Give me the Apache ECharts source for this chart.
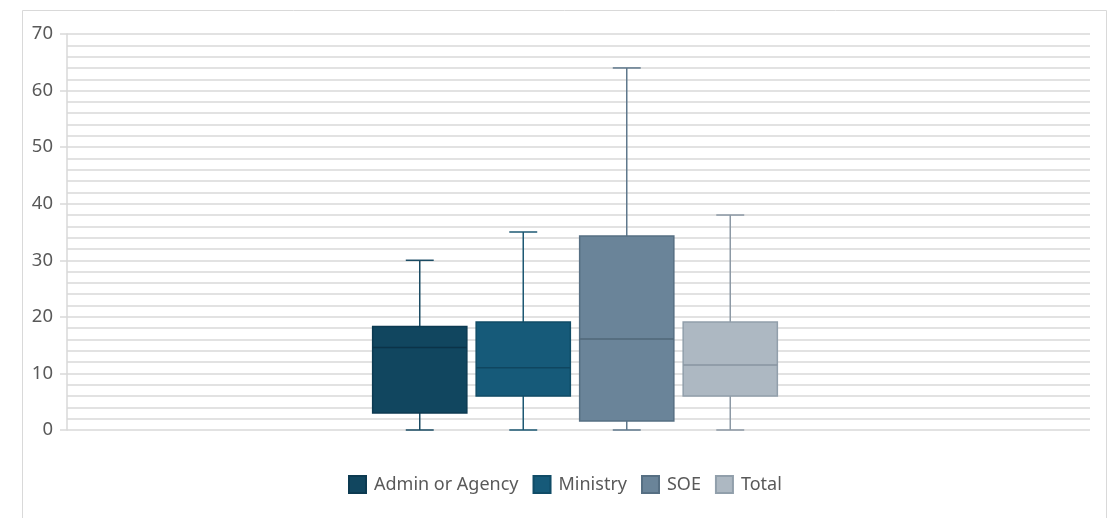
<!DOCTYPE html>
<html>
<head>
<meta charset="utf-8">
<script src="https://cdn.jsdelivr.net/npm/echarts@6/dist/echarts.min.js"></script>
<style>html,body{margin:0;padding:0;background:#fff;}#c{width:1107px;height:518px;}</style>
</head>
<body>
<div id="c"></div>
<script>
const categories = ['Admin or Agency', 'Ministry', 'SOE', 'Total'];
const minValues = [0, 0, 0, 0];
const q1Values = [3, 6, 1.6, 6];
const medianValues = [14.6, 11, 16.1, 11.5];
const q3Values = [18.3, 19.1, 34.3, 19.1];
const maxValues = [30, 35, 64, 38];
const yTickValues = [0, 10, 20, 30, 40, 50, 60, 70];

const fills = ['#11465f', '#165a79', '#6a8499', '#adb8c2'];
const borders = ['#0c3a51', '#104c67', '#566f83', '#919fab'];
const whiskers = ['#1a4b63', '#1d5873', '#5f788c', '#8c99a5'];
const medians = ['#0b3348', '#0f4660', '#506779', '#8995a0'];

const FONT = '"Noto Sans", "Open Sans", sans-serif';

function makeRender(i) {
  return function (params, api) {
    const x = api.value(0);
    const band = api.size([1, 0])[0];
    const half = band * 0.455;
    const capHalf = band * 0.135;
    const pMin = api.coord([x, api.value(1)]);
    const pQ1 = api.coord([x, api.value(2)]);
    const pMed = api.coord([x, api.value(3)]);
    const pQ3 = api.coord([x, api.value(4)]);
    const pMax = api.coord([x, api.value(5)]);
    const cx = pMed[0];
    const ws = { stroke: whiskers[i], lineWidth: 1.5 };
    return {
      type: 'group',
      children: [
        { type: 'line', shape: { x1: cx, y1: pMin[1], x2: cx, y2: pQ1[1] }, style: ws },
        { type: 'line', shape: { x1: cx, y1: pQ3[1], x2: cx, y2: pMax[1] }, style: ws },
        { type: 'line', shape: { x1: cx - capHalf, y1: pMin[1], x2: cx + capHalf, y2: pMin[1] }, style: ws },
        { type: 'line', shape: { x1: cx - capHalf, y1: pMax[1], x2: cx + capHalf, y2: pMax[1] }, style: ws },
        { type: 'rect', shape: { x: cx - half, y: pQ3[1], width: half * 2, height: pQ1[1] - pQ3[1] },
          style: { fill: fills[i], stroke: borders[i], lineWidth: 1.5 } },
        { type: 'line', shape: { x1: cx - half, y1: pMed[1], x2: cx + half, y2: pMed[1] },
          style: { stroke: medians[i], lineWidth: 1.5 } }
      ]
    };
  };
}

const series = categories.map(function (name, i) {
  return {
    name: name,
    type: 'custom',
    xAxisIndex: 1,
    yAxisIndex: 1,
    renderItem: makeRender(i),
    itemStyle: { color: fills[i], borderColor: borders[i], borderWidth: 1 },
    encode: { x: 0, y: [1, 2, 3, 4, 5] },
    data: [[i, minValues[i], q1Values[i], medianValues[i], q3Values[i], maxValues[i]]]
  };
});

const chart = echarts.init(document.getElementById('c'), null, { renderer: 'canvas' });
chart.setOption({
  animation: false,
  backgroundColor: '#fff',
  graphic: [{
    type: 'rect', left: 20, top: 8, silent: true, z: -10,
    shape: { width: 1084, height: 530 },
    style: { fill: 'none', stroke: '#d9d9d9', lineWidth: 1 }
  }],
  grid: [
    { left: 67, right: 17, top: 34, bottom: 88 },
    { left: 368, width: 414, top: 34, bottom: 88 }
  ],
  xAxis: [
    { gridIndex: 0, type: 'category', data: [''], axisLine: { show: false }, axisTick: { show: false }, axisLabel: { show: false } },
    { gridIndex: 1, type: 'category', data: categories, show: false }
  ],
  yAxis: [
    {
      gridIndex: 0, type: 'value', min: yTickValues[0], max: yTickValues[yTickValues.length - 1], interval: 10,
      axisLine: { show: true, lineStyle: { color: '#d9d9d9', width: 1.5 } },
      axisTick: { show: true, length: 7, lineStyle: { color: '#d9d9d9', width: 1.5 } },
      axisLabel: { color: '#595959', fontSize: 18.5, fontFamily: FONT, margin: 14 },
      splitLine: { show: true, lineStyle: { color: '#d9d9d9', width: 1.5 } },
      minorTick: { show: false, splitNumber: 5 },
      minorSplitLine: { show: true, lineStyle: { color: '#d9d9d9', width: 1.5 } }
    },
    { gridIndex: 1, type: 'value', min: 0, max: 70, show: false }
  ],
  legend: {
    left: 343, top: 470,
    icon: 'rect', itemWidth: 17, itemHeight: 17, itemGap: 14,
    textStyle: { color: '#595959', fontSize: 18, fontFamily: FONT, padding: [0, 0, 0, 3] },
    data: categories
  },
  series: series
});
</script>
</body>
</html>
